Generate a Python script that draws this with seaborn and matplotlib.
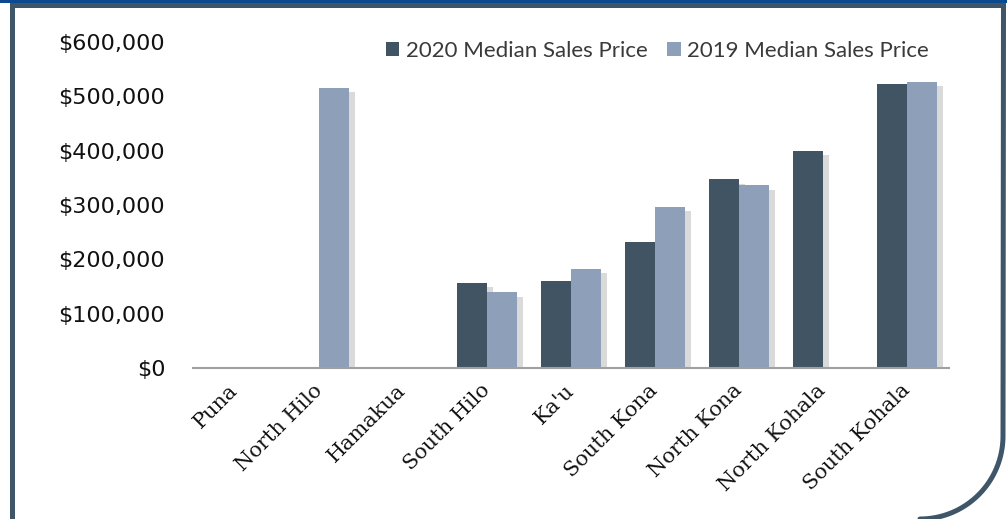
import numpy as np
import pandas as pd
import matplotlib
matplotlib.use("Agg")
import matplotlib.pyplot as plt
import matplotlib.patheffects as pe
from matplotlib.ticker import FuncFormatter, MultipleLocator
from matplotlib.lines import Line2D
from matplotlib.patches import Rectangle, Patch
import seaborn as sns

districts = ["Puna", "North Hilo", "Hamakua", "South Hilo", "Ka'u",
             "South Kona", "North Kona", "North Kohala", "South Kohala"]
price_2020 = [np.nan, np.nan, np.nan, 157000, 160000, 231000, 347000, 399000, 523000]
price_2019 = [np.nan, 515000, np.nan, 139000, 182000, 297000, 336000, np.nan, 526000]
series = ["2020 Median Sales Price", "2019 Median Sales Price"]
colors = ["#415463", "#8e9fba"]

df = pd.DataFrame({
    "district": districts * 2,
    "price": price_2020 + price_2019,
    "series": [series[0]] * len(districts) + [series[1]] * len(districts),
})

sns.set_style("white")
plt.rcParams["font.family"] = ["DejaVu Sans"]

W, H = 1007, 519
fig = plt.figure(figsize=(W / 100, H / 100), dpi=100)
ax = fig.add_axes([193 / W, 1 - 368 / H, (949 - 193) / W, (368 - 42) / H])

sns.barplot(data=df, x="district", y="price", hue="series", order=districts,
            hue_order=series, palette=colors, width=0.72, saturation=1,
            errorbar=None, ax=ax, legend=False, linewidth=0, edgecolor="none")

for p in ax.patches:
    p.set_linewidth(0)
    p.set_edgecolor("none")
    p.set_path_effects([pe.SimplePatchShadow(offset=(4, -3), shadow_rgbFace="#7a7a7a", alpha=0.28),
                        pe.Normal()])

ax.set_ylim(0, 600000)
ax.set_xlim(-0.5, len(districts) - 0.5)
ax.yaxis.set_major_locator(MultipleLocator(100000))
ax.yaxis.set_major_formatter(FuncFormatter(lambda v, _: f"${v:,.0f}"))
ax.set_xlabel("")
ax.set_ylabel("")
for s in ["top", "right", "left"]:
    ax.spines[s].set_visible(False)
ax.spines["bottom"].set_color("#a0a0a0")
ax.spines["bottom"].set_linewidth(1.5)
ax.tick_params(axis="y", length=0, pad=20, labelsize=16, labelcolor="#111111")
ax.tick_params(axis="x", length=0, pad=14)
ax.set_xticks(range(len(districts)))
ax.set_xticklabels(districts, rotation=45, ha="right", va="center",
                   rotation_mode="anchor", fontsize=15, family="DejaVu Serif",
                   color="#111111")
ax.grid(False)

handles = [Patch(facecolor=c, edgecolor="none") for c in colors]
leg = ax.legend(handles, series, loc="upper right", bbox_to_anchor=(1.0, 1.065),
                ncol=2, frameon=False, handlelength=0.6, handleheight=0.6,
                handletextpad=0.3, columnspacing=0.9,
                prop={"family": ["Lato", "DejaVu Sans"], "size": 16})
for t in leg.get_texts():
    t.set_color("#3a3a3a")

# frame
def fx(x):
    return x / W

def fy(y):
    return 1 - y / H

slate = "#3f5568"
lw = 5 * 72 / 100
cx, cy, r = 920, 436, 83
theta = np.linspace(0, np.pi / 2, 40)
arc_x = cx + r * np.cos(theta)
arc_y = cy + r * np.sin(theta)
px = [12.5, 12.5, 1003.5] + list(arc_x)
py = [530, 5.5, 5.5] + list(arc_y)
fig.add_artist(Line2D([fx(v) for v in px], [fy(v) for v in py], color=slate,
                      lw=lw, transform=fig.transFigure, solid_joinstyle="miter"))
fig.add_artist(Rectangle((0, fy(3)), 1, 3 / H, transform=fig.transFigure,
                         facecolor="#0b4a8f", edgecolor="none"))

fig.savefig("out.png", dpi=100)
